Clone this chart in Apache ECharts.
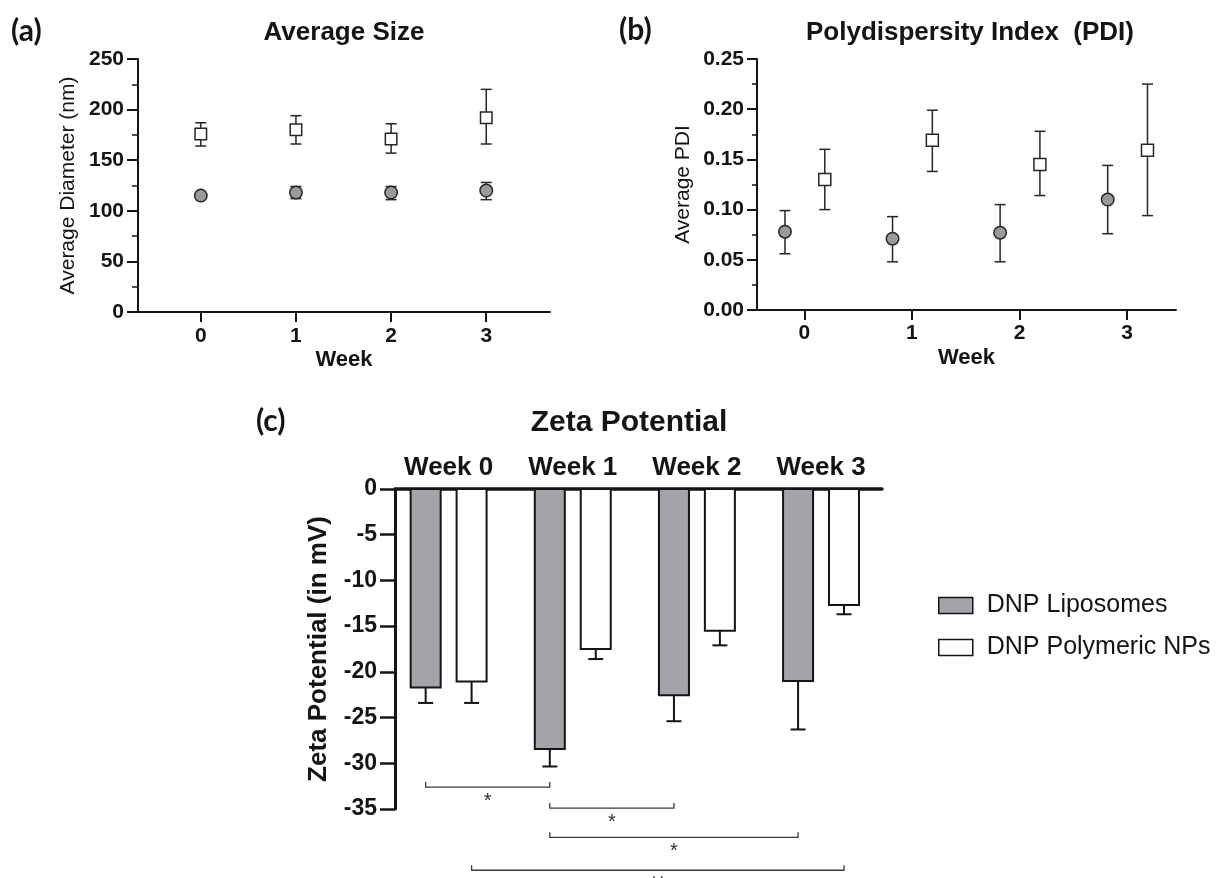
<!DOCTYPE html>
<html><head><meta charset="utf-8">
<script src="https://cdn.jsdelivr.net/npm/echarts@6/dist/echarts.min.js"></script>
<style>html,body{margin:0;padding:0;background:#fff}#c{width:1225px;height:878px}</style>
</head><body><div id="c"></div>
<script>
// ---------- data ----------
const weeks = [0, 1, 2, 3];
const weekLabels = ['Week 0', 'Week 1', 'Week 2', 'Week 3'];
// (a) Average size (nm)
const sizeLipoMean = [115, 118, 118, 120];
const sizeLipoLow  = [115, 112, 111, 111];
const sizeLipoHigh = [115, 124, 124, 128];
const sizePolyMean = [176, 180, 171, 192];
const sizePolyLow  = [164, 166, 157, 166];
const sizePolyHigh = [187, 194, 186, 220];
// (b) PDI
const pdiLipoMean = [0.078, 0.071, 0.077, 0.110];
const pdiLipoLow  = [0.056, 0.048, 0.048, 0.076];
const pdiLipoHigh = [0.099, 0.093, 0.105, 0.144];
const pdiPolyMean = [0.130, 0.169, 0.145, 0.159];
const pdiPolyLow  = [0.100, 0.138, 0.114, 0.094];
const pdiPolyHigh = [0.160, 0.199, 0.178, 0.225];
// (c) Zeta potential (mV)
const zetaLipoMean = [-21.7, -28.45, -22.55, -21.0];
const zetaLipoLow  = [-23.4, -30.35, -25.4, -26.3];
const zetaPolyMean = [-21.05, -17.5, -15.5, -12.7];
const zetaPolyLow  = [-23.4, -18.6, -17.1, -13.7];
// significance brackets (group 0 = Liposomes, 1 = Polymeric NPs)
const sigFromWeek  = [0, 1, 1, 0];
const sigFromGroup = [0, 0, 0, 1];
const sigToWeek    = [1, 2, 3, 3];
const sigToGroup   = [0, 0, 0, 1];
const sigLevel     = [-32.6, -34.9, -38.1, -41.7];
const sigLabel     = ['*', '*', '*', '**'];
const seriesNames  = ['DNP Liposomes', 'DNP Polymeric NPs'];

// ---------- styling ----------
const FF = '"Liberation Sans", Arial, sans-serif';
const INK = '#141414';
const GREY = '#a3a3a9';
const MARK_GREY = '#9a9a9a';
const offB = [-0.18, 0.19];
const offC = [-0.185, 0.185];

function errRender(capHalf, lw) {
  return function (params, api) {
    const x = api.value(0), lo = api.value(1), hi = api.value(2);
    const a = api.coord([x, lo]), b = api.coord([x, hi]);
    const st = { stroke: '#262626', lineWidth: lw };
    return { type: 'group', children: [
      { type: 'line', shape: { x1: a[0], y1: a[1], x2: b[0], y2: b[1] }, style: st },
      { type: 'line', shape: { x1: a[0] - capHalf, y1: a[1], x2: a[0] + capHalf, y2: a[1] }, style: st },
      { type: 'line', shape: { x1: b[0] - capHalf, y1: b[1], x2: b[0] + capHalf, y2: b[1] }, style: st }
    ]};
  };
}
function barRender(fill) {
  return function (params, api) {
    const x = api.value(0), v = api.value(1), lo = api.value(2);
    const p0 = api.coord([x, 0]), p1 = api.coord([x, v]), p2 = api.coord([x, lo]);
    const w = 30;
    const st = { stroke: INK, lineWidth: 2 };
    return { type: 'group', children: [
      { type: 'line', shape: { x1: p1[0], y1: p1[1], x2: p2[0], y2: p2[1] }, style: st },
      { type: 'line', shape: { x1: p2[0] - 7.5, y1: p2[1], x2: p2[0] + 7.5, y2: p2[1] }, style: st },
      { type: 'rect', shape: { x: p0[0] - w / 2, y: p0[1], width: w, height: p1[1] - p0[1] },
        style: { fill: fill, stroke: INK, lineWidth: 2 } }
    ]};
  };
}
function sigRender(params, api) {
  const i = params.dataIndex;
  const y = api.value(2);
  const a = api.coord([api.value(0), y]), b = api.coord([api.value(1), y]);
  return { type: 'group', children: [
    { type: 'polyline', shape: { points: [[a[0], a[1] - 5], [a[0], a[1]], [b[0], b[1]], [b[0], b[1] - 5]] },
      style: { stroke: '#3a3a3a', lineWidth: 1.3, fill: null } },
    { type: 'text', style: { text: sigLabel[i], x: (a[0] + b[0]) / 2, y: a[1] + 4, align: 'center',
      verticalAlign: 'top', font: '20px ' + FF, fill: '#333' } }
  ]};
}

const tickLbl = (size) => ({ fontFamily: FF, fontWeight: 'bold', fontSize: size, color: INK });

const option = {
  animation: false,
  backgroundColor: '#fff',
  graphic: [
    { type: 'text', x: 11, y: 31, style: { text: '(a)', font: 'bold 30px Lato, sans-serif', fill: INK, verticalAlign: 'middle' } },
    { type: 'text', x: 619, y: 30, style: { text: '(b)', font: 'bold 30px Lato, sans-serif', fill: INK, verticalAlign: 'middle' } },
    { type: 'text', x: 256, y: 421, style: { text: '(c)', font: 'bold 30px Lato, sans-serif', fill: INK, verticalAlign: 'middle' } },
    { type: 'text', x: 344, y: 33, style: { text: 'Average Size', font: 'bold 26px ' + FF, fill: INK, align: 'center', verticalAlign: 'middle' } },
    { type: 'text', x: 970, y: 33, style: { text: 'Polydispersity Index  (PDI)', font: 'bold 26px ' + FF, fill: INK, align: 'center', verticalAlign: 'middle' } },
    { type: 'text', x: 629, y: 423, style: { text: 'Zeta Potential', font: 'bold 30px ' + FF, fill: INK, align: 'center', verticalAlign: 'middle' } }
  ],
  legend: {
    orient: 'vertical', left: 933, top: 588, itemWidth: 34, itemHeight: 16, itemGap: 17,
    icon: 'rect', selectedMode: false,
    textStyle: { fontFamily: FF, fontSize: 25, color: INK, padding: [0, 0, 0, 9] },
    data: [
      { name: seriesNames[0], itemStyle: { color: GREY, borderColor: INK, borderWidth: 1.5 } },
      { name: seriesNames[1], itemStyle: { color: '#fff', borderColor: INK, borderWidth: 1.5 } }
    ]
  },
  grid: [
    { left: 138, top: 59, width: 412, height: 253 },
    { left: 757, top: 59, width: 419, height: 251 },
    { left: 395, top: 489, width: 487, height: 320 }
  ],
  xAxis: [
    { gridIndex: 0, type: 'value', min: -0.66, max: 3.67,
      name: 'Week', nameLocation: 'middle', nameGap: 37,
      nameTextStyle: { fontFamily: FF, fontWeight: 'bold', fontSize: 22, color: INK },
      axisLine: { onZero: false, lineStyle: { color: INK, width: 2 } },
      axisTick: { customValues: weeks, length: 10, lineStyle: { color: INK, width: 2 } },
      axisLabel: Object.assign({ customValues: weeks, margin: 14 }, tickLbl(21)),
      splitLine: { show: false } },
    { gridIndex: 1, type: 'value', min: -0.44, max: 3.455,
      name: 'Week', nameLocation: 'middle', nameGap: 37,
      nameTextStyle: { fontFamily: FF, fontWeight: 'bold', fontSize: 22, color: INK },
      axisLine: { onZero: false, lineStyle: { color: INK, width: 2 } },
      axisTick: { customValues: weeks, length: 10, lineStyle: { color: INK, width: 2 } },
      axisLabel: Object.assign({ customValues: weeks, margin: 13 }, tickLbl(21)),
      splitLine: { show: false } },
    { gridIndex: 2, type: 'value', min: -0.432, max: 3.491, position: 'top',
      axisLine: { onZero: false, lineStyle: { color: INK, width: 3.5 } },
      axisTick: { show: false },
      axisLabel: Object.assign({ customValues: weeks, margin: 8, formatter: (v) => weekLabels[Math.round(v)] }, tickLbl(26)),
      splitLine: { show: false } }
  ],
  yAxis: [
    { gridIndex: 0, type: 'value', min: 0, max: 250, interval: 50,
      name: 'Average Diameter (nm)', nameLocation: 'middle', nameGap: 59,
      nameTextStyle: { fontFamily: FF, fontSize: 21, color: INK },
      axisLine: { show: true, onZero: false, lineStyle: { color: INK, width: 2 } },
      axisTick: { show: true, length: 11, lineStyle: { color: INK, width: 2 } },
      minorTick: { show: true, splitNumber: 2, length: 6, lineStyle: { color: INK, width: 1.5 } },
      axisLabel: Object.assign({ margin: 14 }, tickLbl(21)),
      splitLine: { show: false } },
    { gridIndex: 1, type: 'value', min: 0, max: 0.25, interval: 0.05,
      name: 'Average PDI', nameLocation: 'middle', nameGap: 63,
      nameTextStyle: { fontFamily: FF, fontSize: 21, color: INK },
      axisLine: { show: true, onZero: false, lineStyle: { color: INK, width: 2 } },
      axisTick: { show: true, length: 10, lineStyle: { color: INK, width: 2 } },
      minorTick: { show: true, splitNumber: 2, length: 5, lineStyle: { color: INK, width: 1.5 } },
      axisLabel: Object.assign({ margin: 13, formatter: (v) => v.toFixed(2) }, tickLbl(21)),
      splitLine: { show: false } },
    { gridIndex: 2, type: 'value', min: -35, max: 0, interval: 5,
      name: 'Zeta Potential (in mV)', nameLocation: 'middle', nameGap: 63,
      nameTextStyle: { fontFamily: FF, fontWeight: 'bold', fontSize: 26, color: INK },
      axisLine: { show: true, onZero: false, lineStyle: { color: INK, width: 3 } },
      axisTick: { show: true, length: 15, lineStyle: { color: INK, width: 2.5 } },
      axisLabel: Object.assign({ margin: 18 }, tickLbl(23)),
      splitLine: { show: false } }
  ],
  series: [
    // (a)
    { type: 'custom', name: 'size-lipo-err', xAxisIndex: 0, yAxisIndex: 0, renderItem: errRender(5.5, 1.5),
      encode: { x: 0, y: [1, 2] }, z: 2,
      data: weeks.map((w, i) => [w, sizeLipoLow[i], sizeLipoHigh[i]]) },
    { type: 'custom', name: 'size-poly-err', xAxisIndex: 0, yAxisIndex: 0, renderItem: errRender(5.5, 1.5),
      encode: { x: 0, y: [1, 2] }, z: 2,
      data: weeks.map((w, i) => [w, sizePolyLow[i], sizePolyHigh[i]]) },
    { type: 'scatter', name: 'size-lipo', xAxisIndex: 0, yAxisIndex: 0, symbol: 'circle', symbolSize: 12.5, z: 5,
      itemStyle: { color: MARK_GREY, borderColor: '#262626', borderWidth: 1.5, opacity: 1 },
      data: weeks.map((w, i) => [w, sizeLipoMean[i]]) },
    { type: 'scatter', name: 'size-poly', xAxisIndex: 0, yAxisIndex: 0, symbol: 'rect', symbolSize: 11.5, z: 5,
      itemStyle: { color: '#fff', borderColor: '#262626', borderWidth: 1.5, opacity: 1 },
      data: weeks.map((w, i) => [w, sizePolyMean[i]]) },
    // (b)
    { type: 'custom', name: 'pdi-lipo-err', xAxisIndex: 1, yAxisIndex: 1, renderItem: errRender(5.5, 1.5),
      encode: { x: 0, y: [1, 2] }, z: 2,
      data: weeks.map((w, i) => [w + offB[0], pdiLipoLow[i], pdiLipoHigh[i]]) },
    { type: 'custom', name: 'pdi-poly-err', xAxisIndex: 1, yAxisIndex: 1, renderItem: errRender(5.5, 1.5),
      encode: { x: 0, y: [1, 2] }, z: 2,
      data: weeks.map((w, i) => [w + offB[1], pdiPolyLow[i], pdiPolyHigh[i]]) },
    { type: 'scatter', name: 'pdi-lipo', xAxisIndex: 1, yAxisIndex: 1, symbol: 'circle', symbolSize: 12.5, z: 5,
      itemStyle: { color: MARK_GREY, borderColor: '#262626', borderWidth: 1.5, opacity: 1 },
      data: weeks.map((w, i) => [w + offB[0], pdiLipoMean[i]]) },
    { type: 'scatter', name: 'pdi-poly', xAxisIndex: 1, yAxisIndex: 1, symbol: 'rect', symbolSize: 12, z: 5,
      itemStyle: { color: '#fff', borderColor: '#262626', borderWidth: 1.5, opacity: 1 },
      data: weeks.map((w, i) => [w + offB[1], pdiPolyMean[i]]) },
    // (c)
    { type: 'custom', name: seriesNames[0], xAxisIndex: 2, yAxisIndex: 2, renderItem: barRender(GREY),
      itemStyle: { color: GREY }, encode: { x: 0, y: [1, 2] }, clip: false,
      data: weeks.map((w, i) => [w + offC[0], zetaLipoMean[i], zetaLipoLow[i]]) },
    { type: 'custom', name: seriesNames[1], xAxisIndex: 2, yAxisIndex: 2, renderItem: barRender('#fff'),
      itemStyle: { color: '#fff' }, encode: { x: 0, y: [1, 2] }, clip: false,
      data: weeks.map((w, i) => [w + offC[1], zetaPolyMean[i], zetaPolyLow[i]]) },
    { type: 'custom', name: 'significance', xAxisIndex: 2, yAxisIndex: 2, renderItem: sigRender, clip: false,
      encode: { x: [0, 1], y: 2 }, silent: true,
      data: sigLevel.map((lv, i) => [sigFromWeek[i] + offC[sigFromGroup[i]], sigToWeek[i] + offC[sigToGroup[i]], lv]) }
  ]
};
const chart = echarts.init(document.getElementById('c'), null, { renderer: 'canvas' });
chart.setOption(option);
</script>
</body></html>
